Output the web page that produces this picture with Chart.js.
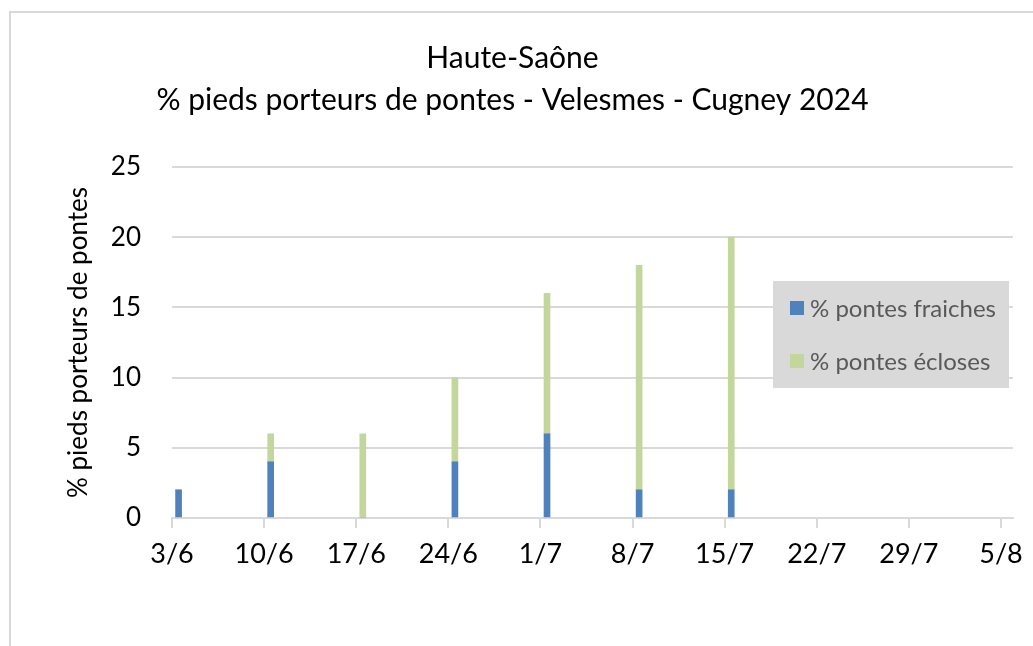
<!DOCTYPE html>
<html>
<head>
<meta charset="utf-8">
<script src="https://cdn.jsdelivr.net/npm/chart.js@4.4.1/dist/chart.umd.min.js"></script>
<style>
  html, body { margin: 0; padding: 0; background: #ffffff; overflow: hidden; }
  #wrap { position: relative; width: 1033px; height: 646px; overflow: hidden; }
  #frame {
    position: absolute; left: 9px; top: 11px; width: 1040px; height: 650px;
    border-left: 2px solid #d9d9d9; border-top: 2px solid #d9d9d9;
  }
</style>
</head>
<body>
<div id="wrap">
  <div id="frame"></div>
  <canvas id="bar-chart"></canvas>
</div>
<script>
// days counted from 3 June 2024
const weekLabels = ["3/6", "10/6", "17/6", "24/6", "1/7", "8/7", "15/7", "22/7", "29/7", "5/8"];
const weekDays = [0, 7, 14, 21, 28, 35, 42, 49, 56, 63];

const sampleDays = [0, 7, 14, 21, 28, 35, 42];
const pontesFraiches = [2, 4, 0, 4, 6, 2, 2];
const pontesEcloses = [0, 2, 6, 6, 10, 16, 18];

const yTicks = [0, 5, 10, 15, 20, 25];

const fontName = "Lato, 'Open Sans', sans-serif";

const toPoints = (values) => {
  return values.map((v, i) => ({ x: sampleDays[i], y: v }));
};

// legend drawn as a grey box over the plot, like the Excel original
const boxLegend = {
  id: "boxLegend",
  afterDraw: (chart) => {
    const ctx = chart.ctx;
    ctx.save();
    ctx.fillStyle = "#d9d9d9";
    ctx.fillRect(773, 281, 236, 107);
    ctx.font = "24px " + fontName;
    ctx.textBaseline = "middle";
    chart.data.datasets.forEach((ds, i) => {
      const y = 308 + i * 53;
      ctx.fillStyle = ds.backgroundColor;
      ctx.fillRect(790, y - 7, 14, 14);
      ctx.fillStyle = "#595959";
      ctx.fillText(ds.label, 810, y + 1);
    });
    ctx.restore();
  },
};

const myChart = new Chart("bar-chart", {
  type: "bar",
  data: {
    datasets: [
      {
        label: "% pontes fraiches",
        data: toPoints(pontesFraiches),
        backgroundColor: "#4f81bd",
        barThickness: 6,
        stack: "pontes",
      },
      {
        label: "% pontes écloses",
        data: toPoints(pontesEcloses),
        backgroundColor: "#c3d69b",
        barThickness: 6,
        stack: "pontes",
      },
    ],
  },
  plugins: [boxLegend],
  options: {
    responsive: true,
    maintainAspectRatio: false,
    animation: false,
    layout: {
      padding: {
        top: 0,
        left: 10,
        right: 18,
        bottom: 77,
      },
    },
    scales: {
      x: {
        type: "linear",
        stacked: true,
        offset: false,
        min: -0.5,
        max: 63.4,
        afterBuildTicks: (scale) => {
          scale.ticks = weekDays.map((d) => ({ value: d - 0.5 }));
        },
        afterFit: (scale) => {
          scale.height = 51;
        },
        border: {
          color: "#d9d9d9",
          width: 2,
        },
        grid: {
          offset: false,
          drawOnChartArea: false,
          color: "#d9d9d9",
          lineWidth: 2,
          tickLength: 10,
        },
        ticks: {
          autoSkip: false,
          maxRotation: 0,
          padding: 10,
          color: "#000000",
          font: { family: fontName, size: 27 },
          callback: (value, index) => weekLabels[index],
        },
      },
      y: {
        stacked: true,
        min: 0,
        max: 25,
        afterBuildTicks: (scale) => {
          scale.ticks = yTicks.map((v) => ({ value: v }));
        },
        afterFit: (scale) => {
          scale.width = 162;
        },
        border: {
          display: false,
        },
        grid: {
          color: "#d9d9d9",
          lineWidth: 2,
          drawTicks: false,
        },
        ticks: {
          padding: 31,
          color: "#000000",
          font: { family: fontName, size: 26 },
        },
        title: {
          display: true,
          text: "% pieds porteurs de pontes",
          color: "#000000",
          font: { family: fontName, size: 26 },
          padding: { top: 53, bottom: 0 },
        },
      },
    },
    plugins: {
      legend: {
        display: false,
      },
      tooltip: {
        enabled: false,
      },
      title: {
        display: true,
        text: ["Haute-Saône", "% pieds porteurs de pontes - Velesmes - Cugney 2024"],
        color: "#000000",
        font: { family: fontName, size: 30, weight: "normal", lineHeight: 1.4 },
        padding: { top: 37, bottom: 46 },
      },
    },
  },
});
</script>
</body>
</html>
